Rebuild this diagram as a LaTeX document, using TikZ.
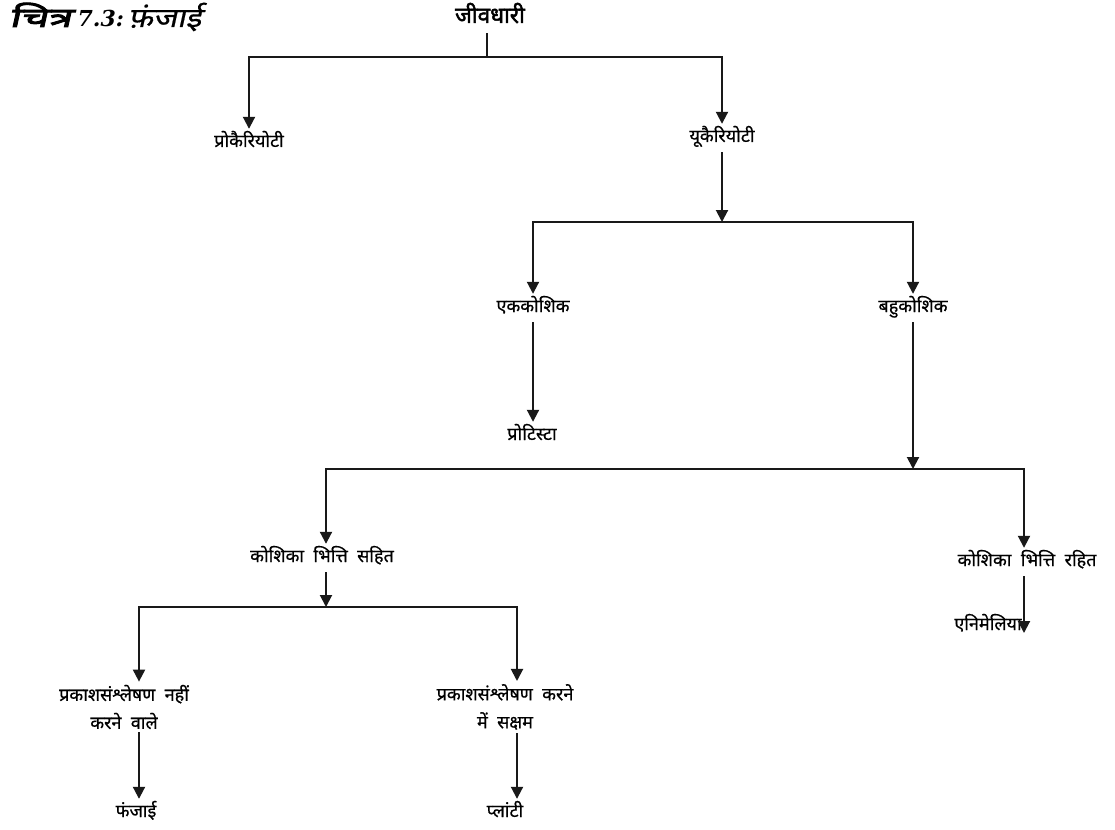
\documentclass[tikz,border=0pt]{standalone}
\usepackage{fontspec}
\newfontfamily\deva[Script=Devanagari,WordSpace=2.0,FakeBold=0.5]{Noto Sans}
\newfontfamily\devabold[Script=Devanagari,FakeBold=2.2]{Noto Sans}
\newfontfamily\devatitle[Script=Devanagari,FakeSlant=0.22,FakeBold=0.6,FakeStretch=1.2]{Noto Sans}
\newfontfamily\devatitleb[Script=Devanagari,FakeSlant=0.22,FakeBold=3.5,FakeStretch=1.6]{Noto Sans}
\newfontfamily\numtitle{DejaVu Serif}
\usetikzlibrary{arrows.meta}
\begin{document}
\begin{tikzpicture}[x=1pt,y=-1pt,
  ln/.style={line width=2pt, draw=black!90},
  arr/.style={ln, -{Triangle[width=12pt,length=12pt]}},
  lbl/.style={font=\deva\fontsize{18}{21}\selectfont, inner xsep=0pt, inner ysep=5pt, text height=13pt, text depth=5pt},
  lbltwo/.style={font=\deva\fontsize{18}{28}\selectfont, align=center, inner sep=3pt},
  rootlbl/.style={lbl, font=\devabold\fontsize{22.5}{25}\selectfont},
  titlelbl/.style={font=\devatitle\fontsize{27}{30}\selectfont, inner sep=0pt}]
\fill[white] (0,0) rectangle (1115,829);
\useasboundingbox (0,0) rectangle (1115,829);

% title
\node[titlelbl, anchor=west] (title) at (9,17) {{\devatitleb\fontsize{27}{30}\selectfont चित्र}\hspace{6pt}{\numtitle\bfseries\itshape\fontsize{22}{28}\selectfont 7.3:}\hspace{4pt}फ़ंजाई};

% columns for offset arrows
\coordinate (cN) at (139,0);
\coordinate (cS) at (517,0);
\coordinate (cR) at (1024,0);

% nodes
\node[rootlbl] (root) at (490,19) {जीवधारी};
\node[lbl] (pro) at (249,143) {प्रोकैरियोटी};
\node[lbl] (euk) at (722,138) {यूकैरियोटी};
\node[lbl] (eka) at (533,308) {एककोशिक};
\node[lbl] (bahu) at (913,308) {बहुकोशिक};
\node[lbl] (protista) at (532,436) {प्रोटिस्टा};
\node[lbl] (sahit) at (322,558) {कोशिका भित्ति सहित};
\node[lbl] (rahit) at (1027,562) {कोशिका भित्ति रहित};
\node[lbl] (ani) at (988,626) {एनिमेलिया};
\node[lbltwo] (nahi) at (124,707) {प्रकाशसंश्लेषण नहीं\\करने वाले};
\node[lbltwo] (sak) at (505,707) {प्रकाशसंश्लेषण करने\\में सक्षम};
\node[lbl] (fungi) at (136,813) {फंजाई};
\node[lbl] (plant) at (505,813) {प्लांटी};

% junctions
\coordinate (j1) at (487,57);
\coordinate (j2) at (722,222);
\coordinate (j3) at (913,469);
\coordinate (j4) at (326,607);
\coordinate (aniTip) at (1024,633);

% connectors
\draw[ln] (j1 |- root.south) -- (j1);
\draw[arr] (j1) -| (pro.north);
\draw[arr] (j1) -| (euk.north);

\draw[arr] (euk.south) -- (j2);
\draw[arr] (j2) -| (eka.north);
\draw[arr] (j2) -| (bahu.north);

\draw[arr] (eka.south) -- (protista.north -| eka.south);
\draw[arr] (bahu.south) -- (j3);
\draw[arr] (j3) -| (sahit.north -| j4);
\draw[arr] (j3) -| (rahit.north -| cR);

\draw[arr] (sahit.south -| j4) -- (j4);
\draw[arr] (j4) -| (nahi.north -| cN);
\draw[arr] (j4) -| (sak.north -| cS);

\draw[arr] (nahi.south -| cN) -- (fungi.north -| cN);
\draw[arr] (sak.south -| cS) -- (plant.north -| cS);
\draw[arr] (rahit.south -| cR) -- (aniTip);
\end{tikzpicture}
\end{document}
